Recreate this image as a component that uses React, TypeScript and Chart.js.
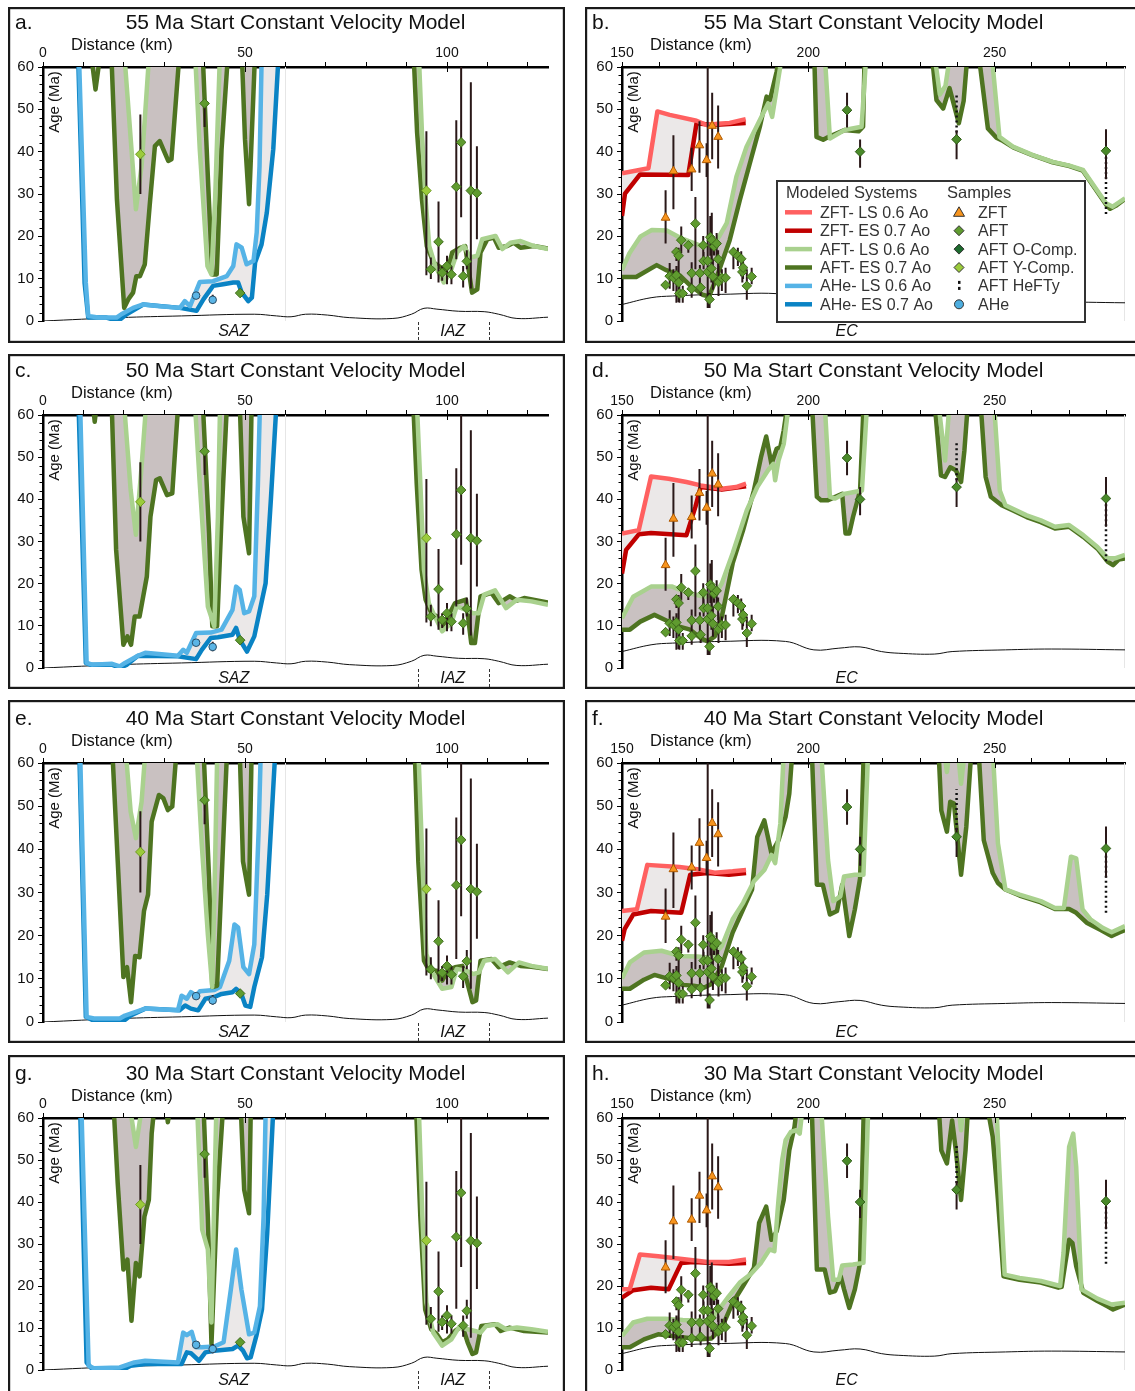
import React, { useEffect, useRef } from "react";
import { Chart, registerables } from "chart.js";

Chart.register(...registerables);

const U = 66; // model age above the plotted window (line leaves the top of the plot)
type Pt = [number, number];

// ---------- text / ticks ----------
const PANEL_LETTERS = ["a.", "b.", "c.", "d.", "e.", "f.", "g.", "h."];
const START_AGES = [55, 55, 50, 50, 40, 40, 30, 30];
const LEFT_X_LABELS = [0, 50, 100];
const RIGHT_X_LABELS = [150, 200, 250];
const Y_LABELS = [0, 10, 20, 30, 40, 50, 60];
const LEFT_ZONE_LABELS = ["SAZ", "IAZ"];
const LEFT_ZONE_POS = [47.2, 101.4];
const LEFT_ZONE_BOUNDS = [92.7, 110.3];
const RIGHT_ZONE_LABELS = ["EC"];
const RIGHT_ZONE_POS = [210.3];
const LEGEND_MODELS = ["ZFT- LS 0.6 Ao", "ZFT- ES 0.7 Ao", "AFT- LS 0.6 Ao", "AFT- ES 0.7 Ao", "AHe- LS 0.6 Ao", "AHe- ES 0.7 Ao"];
const LEGEND_SAMPLES = ["ZFT", "AFT", "AFT O-Comp.", "AFT Y-Comp.", "AFT HeFTy", "AHe"];

// ---------- topographic profiles ----------
const LEFT_GROUND: Pt[] = [[0,0],[19,0.8],[34.3,1.2],[52.3,1.6],[57.8,1.2],[61.4,1],[65,1.6],[70.4,1.4],[75.8,0.8],[86.6,0.6],[91.2,1.6],[94.3,3],[97.5,2.8],[102.9,2.3],[109.2,2.2],[112.8,1.6],[117.3,0.6],[125,0.9]];
const RIGHT_GROUND: Pt[] = [[150,3.9],[157.8,5.5],[163.5,5.9],[176.8,6.3],[193.9,6.3],[201.5,4.3],[208.2,4.7],[213.9,5],[219.6,3.9],[224.3,3.5],[233.8,3.3],[238.6,3.9],[252.9,4.3],[265.2,4.5],[285,4.3]];

// ---------- samples: [distance, age, errLow, errHigh] ----------
const LEFT_AFT = [[40.0,51.4,45.8,52.3],[48.8,6.6,6.6,6.6],[96.0,12.2,9.9,15.0],[97.9,18.7,9.1,28.2],[98.8,11.4,9.5,13.0],[100.0,13.0,8.7,15.4],[101.1,11.0,8.7,13.0],[102.3,31.7,14.6,47.4],[103.5,42.2,24.5,60],[104.0,10.6,7.9,13.0],[104.9,14.1,12.2,16.7],[105.9,30.8,7.7,56.4],[107.4,30.2,19.3,41.3]];
const LEFT_AFT_Y = [[24.1,39.4,30.0,48.8],[94.9,30.8,10.8,44.8]];
const LEFT_AHE = [[37.9,6.0,6.0,6.0],[42.0,5.0,4.0,6.2]];
const RIGHT_ZFT = [[161.7,24.4,18.3,30.9],[163.8,35.4,26.4,43.9],[168.7,35.8,30.7,40.9],[170.8,41.5,35.0,47.2],[172.7,38.0,34.0,42.0],[174.2,46.1,38.2,53.9],[175.8,43.5,36.0,50.9]];
const RIGHT_AFT = [[161.7,8.5,8.5,8.5],[162.8,10.6,7.6,13.7],[163.8,10.2,7.1,12.2],[164.6,16.3,14.2,17.3],[165.2,15.4,9.0,17.3],[164.6,10.8,4.3,13.0],[165.2,9.1,4.5,12.0],[165.9,19.1,16.0,22.3],[165.4,6.5,4.3,8.3],[166.3,6.5,4.3,8.3],[167.8,17.9,16.1,18.9],[168.7,11.3,7.6,13.9],[168.7,7.6,5.5,9.4],[169.7,23.0,12.2,29.3],[170.9,11.3,7.6,13.2],[171.1,7.9,5.9,9.0],[171.8,17.9,14.6,20.1],[171.9,14.2,12.2,16.3],[173.0,14.2,3.1,60],[173.0,11.6,8.5,14.0],[173.5,5.1,3.1,6.6],[173.7,19.8,15.4,24.8],[174.0,12.4,9.1,15.4],[174.1,19.1,13.2,25.6],[174.4,10.5,7.4,14.6],[174.7,17.6,15.5,19.5],[175.4,18.3,14.6,20.8],[175.8,14.6,11.4,16.7],[175.9,9.2,5.9,13.0],[176.8,10.2,7.1,12.2],[177.8,10.2,6.6,12.6],[179.9,16.3,12.2,17.3],[181.1,15.4,13.0,17.3],[182.0,14.7,10.6,16.5],[182.3,11.6,9.1,13.8],[182.5,12.6,9.9,15.0],[183.5,8.3,5.0,12.2],[184.8,10.5,8.7,12.6]];
const RIGHT_AFT_O = [[210.4,49.8,45.7,53.9],[213.9,40.0,36.2,42.9],[239.8,42.9,38.2,45.0],[279.9,40.2,33.5,45.3]];
const RIGHT_HEFTY = [[239.8,44.5,53.9],[279.9,25.3,40.2]];

// ---------- models: left panels (a, c, e, g) ----------
const A_AFT_LS: Pt[] = [[0,U],[19.9,U],[21.9,40.6],[23,26.4],[24.4,36.6],[26.5,U],[37.5,U],[38.8,40.6],[40.7,13],[41.7,11],[42.6,28.7],[43.9,U],[92.9,U],[93.8,44.5],[94.7,28.7],[95.6,17.7],[97.1,13],[99.2,9.1],[100.8,11.4],[102.5,16.2],[104.2,17.7],[105.8,15],[107.5,15.4],[108.7,19.3],[112,20.1],[113.7,17],[115.7,18.5],[118.2,18.9],[121.5,17.7],[125,17]];
const A_AFT_ES: Pt[] = [[0,U],[11.5,U],[13,54.7],[14.6,U],[16.8,U],[18.3,28.7],[20.1,3.1],[21.1,5.1],[22.3,6.7],[23.1,10.6],[24,10.6],[25.2,13.4],[26.4,27.2],[27.7,41.3],[28.9,42.5],[31,37.8],[31.8,38.2],[34,U],[39.4,U],[40.9,31.9],[41.9,11],[43,11],[44.2,40.6],[46,U],[49.1,U],[50,42.9],[51,27.6],[51.7,44.5],[52.6,U],[91.6,U],[92.6,44.5],[93.8,28.7],[95,17.7],[96.7,13.8],[99.2,12.2],[100.4,12.8],[101.3,16.2],[103.3,17.3],[104.5,17.7],[106.2,6.7],[107.5,7.5],[108.3,16.2],[110,19.3],[111.6,19.7],[112.8,17.3],[114.9,17.7],[116.5,18.5],[118.2,17.3],[121.5,17.7],[125,17.1]];
const A_AHE_LS: Pt[] = [[0,U],[8.8,U],[10.6,9],[11.2,1.2],[14,0.8],[18.2,0.8],[19.4,1.6],[22.3,3.1],[24.8,3.9],[28.9,3.5],[33.9,3.1],[35.1,4.7],[36.4,3.5],[38.8,9.2],[42.1,9.4],[45.5,10.6],[47.1,13],[47.9,18.1],[49.2,17.3],[50.4,13.4],[52.1,14.2],[52.9,20.9],[53.6,36.6],[54.2,U],[125,U]];
const A_AHE_ES: Pt[] = [[0,U],[8.6,U],[10.3,9],[11.2,0.8],[15.7,0.8],[18.6,0],[20.7,1.6],[24.8,3.9],[33.9,3.1],[38,2.4],[39.7,5.1],[42.1,8.3],[44.6,8.7],[47.1,9.1],[48.3,9.1],[49.2,6.7],[50.8,4.7],[51.7,5.5],[52.5,13.8],[54.1,18.1],[55.4,25.6],[57,40.6],[58.5,U],[125,U]];

const C_AFT_LS: Pt[] = [[0,U],[19.8,U],[21.7,42.2],[23,31.6],[24.4,47.8],[25.8,U],[37.4,U],[38.8,43.8],[40.8,14.6],[42.4,9.9],[43.3,35.9],[43.9,U],[92.4,U],[93.4,43.8],[94.3,23.3],[95.5,15.4],[97,12.2],[98.8,8.7],[101.1,10.7],[102.4,14.6],[104.7,13.8],[106.5,13],[107.9,13],[109.2,17.4],[111.9,18.4],[114.6,14.2],[117.3,16.2],[120.9,15.8],[125,15]];
const C_AFT_ES: Pt[] = [[0,U],[12,U],[12.8,58.4],[13.7,U],[16.9,U],[18.1,28],[19.9,5.5],[20.9,7.5],[21.8,5.5],[22.7,12.2],[23.9,12.2],[25.7,21.7],[26.6,35.9],[28,44.6],[28.9,45],[30.7,41],[32,41.4],[33.7,U],[39.4,U],[41.1,32],[41.9,9.9],[43.1,9.9],[44.2,35.9],[45.7,U],[48.6,U],[49.6,35.9],[51,27.2],[51.7,U],[91.5,U],[92.5,43.8],[93.7,23.3],[94.7,16.2],[96.1,13],[97.5,12.2],[98.8,9.9],[100,11.8],[102,15.4],[104.7,16.2],[106,5.9],[106.9,5.9],[108.3,17],[111,17.8],[112.8,15.4],[115.5,17],[117.3,16],[119.1,16.6],[125,15.5]];
const C_AHE_LS: Pt[] = [[0,U],[9.1,U],[10.8,1.2],[12.2,0.8],[17.1,1],[19,0.4],[20.3,1.2],[23.5,2.9],[25.3,3.6],[33.4,2.9],[34.7,4.3],[35.6,3.6],[37.9,8.3],[41.5,8.4],[44.2,9.1],[46.9,13.8],[47.8,19.3],[48.7,18.5],[49.8,13],[51,13.4],[52.3,17],[53.2,43.8],[53.8,U],[125,U]];
const C_AHE_ES: Pt[] = [[0,U],[8.7,U],[10.6,1.2],[11.7,0.8],[17.1,0.8],[19,0],[20.8,0.8],[23.5,2.9],[33.4,2.8],[37.9,2.1],[39.3,4.3],[41.5,7.1],[43.3,7.3],[46.9,7.9],[47.8,9.5],[48.7,6.7],[50.5,3.9],[52.3,7.5],[53.7,13.8],[55.1,20.1],[56.4,39.9],[58,U],[125,U]];

const E_AFT_LS: Pt[] = [[0,U],[20.2,U],[21.7,48.7],[23,42.6],[24.4,51],[25.6,U],[37.8,U],[39.3,41.1],[40.8,20.3],[41.9,8.1],[42.6,37.2],[43.2,U],[92.8,U],[93.9,37.2],[94.9,15.7],[96.6,11.1],[98.8,7.7],[101.1,8.1],[102.4,12.3],[104.7,11.9],[106.5,11.1],[107.9,11.5],[109.2,14.2],[111.9,14.6],[115.1,11.5],[117.8,13.8],[120.9,13],[125,12.3]];
const E_AFT_ES: Pt[] = [[0,U],[17,U],[18.5,37.2],[19.9,10.4],[20.8,12.7],[21.8,4.6],[22.8,15.3],[23.9,15],[25,25.7],[26,29.5],[26.9,46.4],[28.7,52.6],[29.8,51.8],[30.9,49.1],[32,49.9],[33.3,U],[39.6,U],[41.1,33.4],[41.9,8.1],[43.1,8.4],[44.4,37.2],[45.7,U],[48.6,U],[49.5,37.2],[51,29.5],[51.7,U],[91.9,U],[92.9,37.2],[94.3,14.2],[95.6,11.9],[97.5,11.9],[98.8,9.6],[100.2,11.9],[102,12.7],[103.8,13],[104.9,9.6],[106.3,4.6],[107.2,5],[108.3,14.2],[111,14.6],[112.8,12.7],[115.5,13.8],[118.2,13],[120.9,12.8],[125,12.3]];
const E_AHE_LS: Pt[] = [[0,U],[9.1,U],[10.8,1.2],[12.6,0.8],[19,0.8],[20.3,1.5],[25.3,3.1],[33.4,2.7],[34.3,6.1],[35.6,5.4],[36.6,6.9],[37.9,6.1],[38.8,7.1],[42.4,7.4],[43.8,8.1],[46.1,14.2],[47.4,22.6],[48.3,21.9],[49.6,12.7],[51,11.1],[52.3,18],[53.4,44.9],[54,U],[125,U]];
const E_AHE_ES: Pt[] = [[0,U],[8.9,U],[10.6,1.2],[12.2,0.5],[19.9,0.2],[21.7,1.5],[25.3,3.1],[33.8,2.7],[35.2,3.8],[36.6,3.1],[38.4,2.7],[40.2,5.4],[42.4,5.8],[44.2,6.5],[46.9,6.9],[47.8,7.7],[49.1,6.5],[50.1,3.8],[51.3,3.5],[52.3,8.1],[54.2,15],[55.5,29.5],[57.7,U],[125,U]];

const G_AFT_LS: Pt[] = [[0,U],[21,U],[23,53.1],[25,U],[38,U],[39.4,33.4],[40.8,28.7],[41.7,11.3],[43,U],[92.9,U],[93.9,36.5],[94.9,16],[96.6,8.9],[98.8,5.8],[101.1,7.3],[102.9,10.1],[105.1,9.7],[106.9,9.3],[108.3,8.9],[109.7,10.5],[112.5,10.9],[114.6,9.7],[117.3,10.1],[120.9,9.7],[125,9.1]];
const G_AFT_ES: Pt[] = [[0,U],[17.3,U],[18.5,44.4],[19.9,23.9],[20.9,26.3],[21.9,11.7],[23,25.5],[23.9,22.3],[25.1,36.5],[26.2,40.5],[26.9,56.3],[27.9,U],[30.1,U],[30.9,59],[32.1,U],[39.6,U],[40.8,36.5],[41.7,6.2],[43.1,40.5],[44.8,U],[48.8,U],[49.8,42.9],[51,37.3],[51.5,U],[92.2,U],[93.4,36.5],[94.6,14.4],[96.1,9.7],[97.5,8.5],[98.8,6.6],[100.2,7.3],[102,9.3],[103.8,10.5],[105.1,6.6],[106.3,3.8],[107.2,4.2],[108.5,10.5],[111.9,10.9],[113.3,9.3],[115.5,10.1],[119.1,9.3],[125,8.9]];
const G_AHE_LS: Pt[] = [[0,U],[9.4,U],[11.3,1],[12.6,0.4],[19,0.6],[22.6,1.8],[25.3,2.2],[33.4,1.8],[34.7,8.9],[35.6,8.3],[36.8,9.1],[37.9,5.4],[39.3,5.4],[42.4,5.6],[44.7,6.6],[46.5,19.2],[47.8,28.7],[49.1,19.2],[51,8.5],[52.3,8.9],[53.7,15.2],[54.6,36.5],[55.2,U],[125,U]];
const G_AHE_ES: Pt[] = [[0,U],[9.1,U],[10.8,1.8],[12.2,0.2],[19.9,0.1],[21.7,1],[25.3,1.4],[34.3,1.4],[35.6,4.2],[36.6,4],[38.6,2.2],[40.2,4.2],[42.4,4.6],[46.9,5],[48.3,5.8],[49.5,4.6],[50.5,2.8],[51.4,3],[52.8,8.1],[54.2,14.4],[55.5,32.6],[57.2,U],[125,U]];

// ---------- models: right panels (b, d, f, h) ----------
const B_ZFT_LS: Pt[] = [[150,34.9],[157.1,36.1],[159.5,49.5],[162.8,48.7],[170,47.3],[172.7,46.3],[175.8,46.6],[178.9,46.8],[183.2,47.7]];
const B_ZFT_ES: Pt[] = [[150,24.8],[150.8,30.1],[154.8,34.6],[167.8,34.5],[170,46.7],[174.3,46.3],[183.2,46.8]];
const B_AFT_LS: Pt[] = [[150,12],[152,16],[155,20],[158,21.5],[162,21.4],[166,19.5],[171,17.8],[174.3,17.7],[176,19.9],[178.1,23.1],[180.7,34.1],[183.4,41.1],[187,47.5],[189.2,51.4],[190.3,48.2],[192.4,59.7],[193.2,U],[204.2,U],[205.8,43.1],[209.7,45.1],[214.3,45.9],[215.8,U],[233.4,U],[235.3,53.5],[236.8,55.5],[238.6,U],[248.9,U],[251.3,43.5],[254.9,41.2],[260.3,39.2],[265.6,37.6],[270.1,36.7],[273.7,35.7],[279.9,27.8],[281.7,27],[285,29]];
const B_AFT_ES: Pt[] = [[150,10.4],[153.8,10.4],[159.3,13.2],[161.9,12],[165.5,10.8],[168.2,8.5],[171.6,6.2],[173.4,5.8],[175.2,9.8],[178.9,19.1],[181.6,28.5],[184.3,37.2],[187,45.9],[188.8,53],[189.7,52.2],[191.5,58.9],[193,U],[201.5,U],[202.2,43.5],[204,42.8],[205.5,43.5],[209.7,45.1],[213.5,44.8],[214.7,45.9],[215.2,U],[232.8,U],[234.4,52.2],[236.2,50.2],[237.9,55],[240.4,46.7],[241.7,52],[243,U],[245.3,U],[248.2,45.5],[250.5,43.3],[252.3,42.5],[255,41],[260.3,39.1],[265.6,37.5],[270.1,36.6],[273.7,35.5],[279.9,27.5],[281,26.5],[282.5,27.2],[285,28.8]];

const D_ZFT_LS: Pt[] = [[150,31.9],[154.5,32.7],[157.8,45.4],[162.5,44.9],[167.3,44.1],[171.1,43.3],[176.8,42.5],[180.6,42.9],[183.3,43.7]];
const D_ZFT_ES: Pt[] = [[150,22.4],[151.1,28],[154.5,31.7],[157.8,32],[167.3,31.5],[169.7,38.2],[171.1,42.9],[176.8,42.3],[183.3,43.1]];
const D_AFT_LS: Pt[] = [[150,11.8],[153,16.9],[157.8,19.3],[163.5,19.3],[167.3,17.9],[172.1,16.9],[174.9,17.3],[176.8,20.1],[179.7,27.2],[183.5,37.4],[186.3,42.9],[189.2,46.9],[190.6,48.4],[191.1,44.5],[192,49.2],[193.4,53.1],[195.3,U],[204.2,U],[205.8,40.6],[207.2,40.2],[209.6,41.3],[212,41.7],[214.4,42.1],[216,U],[234.5,U],[236.7,49.2],[238.2,U],[249.6,U],[251.4,42.1],[252.9,38.6],[258.6,36.2],[262.4,35],[266.2,33.5],[270,33.9],[273.8,31.5],[277.6,28.7],[280.4,26],[282.3,26],[285,26.8]];
const D_AFT_ES: Pt[] = [[150,9.1],[152.1,9.1],[154.9,11],[158.7,12.6],[161.6,11.4],[165.4,9.8],[168.3,9.1],[171.1,7.1],[173,6.3],[174.9,7.5],[176.8,12.2],[179.7,24.8],[182.5,32.7],[185.4,42.1],[187.3,50],[188.7,54.9],[190.1,48.4],[191.5,52],[192.5,52.4],[193.4,56.3],[195,U],[200.8,U],[202.3,40.6],[203.4,39.8],[205.3,39.8],[209.1,41.3],[210,31.9],[211,31.9],[212,35.8],[213.9,42.1],[215,U],[233.6,U],[235.6,45.7],[236.7,45.3],[238.1,47.6],[239.6,46.9],[241,44.1],[241.9,51.6],[243.1,U],[246,U],[247.6,45.3],[249,40.6],[251.9,38.6],[254.8,37.4],[258.6,35.8],[262.4,34.6],[266.2,33.1],[270,33.5],[273.8,31.1],[277.6,28.3],[280.4,25.2],[281.8,24.4],[283.3,25.7],[285,26]];

const F_ZFT_LS: Pt[] = [[150,25.7],[154,26.1],[156.8,36.4],[165.4,35.9],[170.2,35.4],[174.9,34.6],[179.7,34.9],[183.3,35.2]];
const F_ZFT_ES: Pt[] = [[150,18.8],[150.7,21.5],[153,24.9],[157.8,25.7],[165.9,25.3],[168.3,34.1],[173,34.5],[178.7,34.1],[183.3,34.5]];
const F_AFT_LS: Pt[] = [[150,10.1],[152.1,13.8],[155.9,16.1],[160.6,16.5],[165.4,15.3],[170.2,15.2],[174,14.9],[176.8,17.6],[179.7,23.8],[182.5,27.6],[185.4,32.6],[188.2,35.2],[190.1,38.7],[191.1,36.8],[192.5,46],[193.6,U],[203.2,U],[205.3,37.5],[206.7,28],[208.6,29.1],[209.6,33.7],[212.5,34.1],[214.8,34.1],[216.2,U],[236,U],[237.2,57.9],[238.3,U],[239.8,U],[241,55.2],[242.4,U],[249.3,U],[250.9,41.4],[252.9,30.7],[256.7,29.5],[262.4,28],[266.2,26.4],[268.6,26.4],[270.5,38.3],[271.9,37.9],[273.6,26.1],[275.7,23.8],[279,21.8],[281.4,20.8],[285,22.2]];
const F_AFT_ES: Pt[] = [[150,7.7],[152.1,7.7],[155.9,9.8],[158.7,10.9],[162.5,10],[166.3,8.6],[169.2,8.4],[172.1,8],[174,8.8],[176.8,13],[179.7,20.7],[182.5,26.1],[184.9,30.7],[186.3,42.9],[188.2,46.7],[190.1,39.1],[192,42.1],[193.9,47.5],[194.9,52.9],[196,U],[200.8,U],[202.3,31.8],[203.9,31.8],[205.8,24.9],[207.7,25.7],[209.1,31.8],[211,19.9],[212.5,26.1],[213.9,33.3],[215,U],[234.8,U],[235.7,49],[237.2,44.1],[238.1,51],[239.1,50.6],[241,34.1],[242.4,45.2],[244,U],[245.5,U],[247.1,42.1],[249.5,34.5],[250.9,32.2],[252.9,30.7],[256.7,29.3],[262.4,27.7],[266.2,26.2],[270,26.2],[271.9,25.3],[274.7,23],[278.5,21.3],[281.4,19.9],[283.3,20.7],[285,21.3]];

const H_ZFT_LS: Pt[] = [[150,19.2],[152.1,19.3],[154.8,27.5],[159.7,27.1],[167.3,26.3],[173,25.7],[178.7,25.7],[183.3,26.3]];
const H_ZFT_ES: Pt[] = [[150,17.2],[153,19],[157.8,19.6],[162.5,19.2],[165.9,25.5],[169.2,25.7],[178.7,25.3],[183.3,25.5]];
const H_AFT_LS: Pt[] = [[150,8.1],[153,11.3],[156.8,12.2],[161.6,12.2],[166.3,11.9],[171.1,11.7],[173.5,11.7],[176,14.4],[178.7,17.6],[181.6,20.8],[184.4,22.7],[187.3,25.5],[189.6,28.7],[190.9,28.3],[192,40.5],[193,50],[193.9,54.7],[195.3,56.7],[196.8,57.1],[197.7,56.3],[198.9,U],[203.2,U],[205.3,36.5],[206.7,21.5],[208.2,21.5],[209.1,24.9],[212,25.1],[214.8,25.5],[216.2,U],[239.9,U],[241,57.1],[242.1,U],[250.3,U],[251.9,36.5],[252.7,22.7],[256.7,21.9],[262.4,21.2],[267.6,20],[268.5,27.9],[270,53.1],[271.1,56.3],[271.9,48.4],[273.3,19.2],[277.6,17],[281.4,15.6],[285,16]];
const H_AFT_ES: Pt[] = [[150,5.4],[152.1,5.4],[155.9,7.3],[159.7,8.5],[163.5,8.1],[167.3,7.7],[171.1,7.3],[174,7.5],[176.8,10.1],[179.7,16],[182.5,20],[185.4,24.3],[186.8,35],[188.7,38.9],[190.1,31],[191.5,33],[193.4,40.5],[194.9,52.3],[196.3,57.9],[197.4,U],[200.8,U],[202.3,23.9],[204.4,23.9],[205.8,18.4],[207.2,18.8],[208.7,22.3],[209.6,19.2],[211,14.8],[212.5,19.2],[213.9,25.5],[215,U],[234.8,U],[235.7,52.3],[237.2,49.2],[238.6,59.4],[239.6,52.3],[241,40.5],[242.2,52.3],[243.1,U],[247.4,U],[249.5,55.5],[250.9,40.5],[252.4,22.3],[256.7,21.5],[262.4,20.8],[267.1,19.6],[268,19.8],[269,25.5],[270,31],[270.9,30.2],[271.9,24.7],[273.8,18.4],[277.6,16.4],[280.4,15.1],[281.8,14.4],[285,15.6]];

// ---------- styles ----------
const COL_AFT_LS = "#A9D18E";
const COL_AFT_ES = "#4E7421";
const COL_AHE_LS = "#55B3E6";
const COL_AHE_ES = "#0A83C4";
const COL_ZFT_LS = "#FF6060";
const COL_ZFT_ES = "#C00000";
const FILL_DARK = "#C9C1C1";
const FILL_LIGHT = "#EBE8E8";
const COL_ERR = "#2A1818";
const FONT = "'Liberation Sans', Arial, sans-serif";

const ROWS = [
  { boxTop: 7, boxH: 336, plotTop: 67, plotBottom: 321 },
  { boxTop: 354, boxH: 335, plotTop: 415, plotBottom: 668 },
  { boxTop: 700, boxH: 343, plotTop: 763, plotBottom: 1022 },
  { boxTop: 1055, boxH: 336, plotTop: 1118, plotBottom: 1370 },
];
const COLS: any = {
  L: { boxLeft: 8, boxW: 557, plotLeft: 43, plotRight: 548, min: 0, max: 125 },
  R: { boxLeft: 585, boxW: 550, plotLeft: 622, plotRight: 1125, min: 150, max: 285 },
};

type PanelCfg = {
  idx: number; side: "L" | "R"; row: number;
  aftLS: Pt[]; aftES: Pt[]; bLS: Pt[]; bES: Pt[];
};

const PANELS: PanelCfg[] = [
  { idx: 0, side: "L", row: 0, aftLS: A_AFT_LS, aftES: A_AFT_ES, bLS: A_AHE_LS, bES: A_AHE_ES },
  { idx: 1, side: "R", row: 0, aftLS: B_AFT_LS, aftES: B_AFT_ES, bLS: B_ZFT_LS, bES: B_ZFT_ES },
  { idx: 2, side: "L", row: 1, aftLS: C_AFT_LS, aftES: C_AFT_ES, bLS: C_AHE_LS, bES: C_AHE_ES },
  { idx: 3, side: "R", row: 1, aftLS: D_AFT_LS, aftES: D_AFT_ES, bLS: D_ZFT_LS, bES: D_ZFT_ES },
  { idx: 4, side: "L", row: 2, aftLS: E_AFT_LS, aftES: E_AFT_ES, bLS: E_AHE_LS, bES: E_AHE_ES },
  { idx: 5, side: "R", row: 2, aftLS: F_AFT_LS, aftES: F_AFT_ES, bLS: F_ZFT_LS, bES: F_ZFT_ES },
  { idx: 6, side: "L", row: 3, aftLS: G_AFT_LS, aftES: G_AFT_ES, bLS: G_AHE_LS, bES: G_AHE_ES },
  { idx: 7, side: "R", row: 3, aftLS: H_AFT_LS, aftES: H_AFT_ES, bLS: H_ZFT_LS, bES: H_ZFT_ES },
];

const toXY = (pts: Pt[]) => pts.map(([x, y]) => ({ x, y }));

function lineDs(pts: Pt[], color: string, extra: any = {}) {
  return {
    type: "line", data: toXY(pts), borderColor: color, borderWidth: 4.5,
    pointRadius: 0, tension: 0, fill: false, borderJoinStyle: "round", ...extra,
  };
}
function pointDs(samples: number[][], style: string, bg: string, border: string, r: number) {
  return {
    type: "line", showLine: false, data: samples.map((s) => ({ x: s[0], y: s[1] })),
    pointStyle: style, pointRadius: r, pointBackgroundColor: bg, pointBorderColor: border,
    pointBorderWidth: 1, borderColor: border, backgroundColor: bg,
  };
}
function barDs(samples: number[][], color: string, width: number, dash: number[] = []) {
  const data: any[] = [];
  for (const s of samples) {
    const lo = s.length === 4 ? s[2] : s[1];
    const hi = s.length === 4 ? s[3] : s[2];
    if (lo === hi) continue;
    data.push({ x: s[0], y: lo }, { x: s[0], y: hi }, { x: s[0], y: null });
  }
  return {
    type: "line", data, borderColor: color, borderWidth: width, borderDash: dash,
    pointRadius: 0, spanGaps: false, fill: false, tension: 0,
  };
}

function drawPointMarker(ctx: CanvasRenderingContext2D, style: string, x: number, y: number, bg: string, border: string) {
  ctx.save();
  ctx.fillStyle = bg; ctx.strokeStyle = border; ctx.lineWidth = 1;
  ctx.beginPath();
  if (style === "tri") {
    ctx.moveTo(x, y - 5.5); ctx.lineTo(x + 5.5, y + 4); ctx.lineTo(x - 5.5, y + 4); ctx.closePath();
  } else if (style === "dia") {
    ctx.moveTo(x, y - 5); ctx.lineTo(x + 5, y); ctx.lineTo(x, y + 5); ctx.lineTo(x - 5, y); ctx.closePath();
  } else {
    ctx.arc(x, y, 4.5, 0, Math.PI * 2);
  }
  ctx.fill(); ctx.stroke();
  ctx.restore();
}

function Panel({ p }: { p: PanelCfg }) {
  const ref = useRef<HTMLCanvasElement>(null);
  const col = COLS[p.side];
  const row = ROWS[p.row];
  const W = col.boxW;
  const H = row.boxH;
  useEffect(() => {
    const isL = p.side === "L";
    const datasets: any[] = isL
      ? [
          pointDs(LEFT_AFT, "rectRot", "#5F9B2F", "#3E6B1B", 4.8),
          pointDs(LEFT_AFT_Y, "rectRot", "#9BCB3C", "#6E9A22", 4.8),
          pointDs(LEFT_AHE, "circle", "#5BB5E6", "#2A4D66", 3.8),
          barDs([...LEFT_AFT, ...LEFT_AFT_Y, ...LEFT_AHE], COL_ERR, 2),
          lineDs(p.aftLS, COL_AFT_LS, { fill: { target: 5 }, backgroundColor: FILL_DARK }),
          lineDs(p.aftES, COL_AFT_ES),
          lineDs(p.bLS, COL_AHE_LS, { fill: { target: 7 }, backgroundColor: FILL_LIGHT }),
          lineDs(p.bES, COL_AHE_ES),
          lineDs(LEFT_GROUND, "#111", { borderWidth: 1, tension: 0.4 }),
        ]
      : [
          pointDs(RIGHT_ZFT, "triangle", "#F7941D", "#B05A00", 5),
          pointDs(RIGHT_AFT, "rectRot", "#5F9B2F", "#3E6B1B", 4.8),
          pointDs(RIGHT_AFT_O, "rectRot", "#4A8A2A", "#2E5A16", 4.8),
          barDs([...RIGHT_ZFT, ...RIGHT_AFT, ...RIGHT_AFT_O], COL_ERR, 2),
          barDs(RIGHT_HEFTY, "#111", 2.5, [2, 3]),
          lineDs(p.bLS, COL_ZFT_LS, { fill: { target: 6 }, backgroundColor: FILL_LIGHT }),
          lineDs(p.bES, COL_ZFT_ES),
          lineDs(p.aftLS, COL_AFT_LS, { fill: { target: 8 }, backgroundColor: FILL_DARK }),
          lineDs(p.aftES, COL_AFT_ES),
          lineDs(RIGHT_GROUND, "#111", { borderWidth: 1, tension: 0.4 }),
        ];
    const xLabels = isL ? LEFT_X_LABELS : RIGHT_X_LABELS;

    const deco = {
      id: "deco",
      beforeDatasetsDraw(chart: any) {
        const { ctx, chartArea: ca, scales } = chart;
        ctx.save();
        ctx.strokeStyle = "#E6E6E6"; ctx.lineWidth = 1;
        const gx = isL ? Math.round(scales.x.getPixelForValue(60)) + 0.5 : ca.right - 0.5;
        ctx.beginPath(); ctx.moveTo(gx, ca.top); ctx.lineTo(gx, ca.bottom); ctx.stroke();
        ctx.restore();
      },
      afterDraw(chart: any) {
        const { ctx, chartArea: ca, scales } = chart;
        const xs = scales.x, ys = scales.y;
        ctx.save();
        // minor y ticks
        ctx.strokeStyle = "#000"; ctx.lineWidth = 1;
        for (let v = 2; v < 60; v += 2) {
          if (v % 10 === 0) continue;
          const y = Math.round(ys.getPixelForValue(v)) + 0.5;
          ctx.beginPath(); ctx.moveTo(ca.left - 3.5, y); ctx.lineTo(ca.left - 1, y); ctx.stroke();
        }
        // labelled x ticks cross the axis
        for (const v of xLabels) {
          const x = Math.round(xs.getPixelForValue(v)) + 0.5;
          if (v === xs.min) continue;
          ctx.beginPath(); ctx.moveTo(x, ca.top); ctx.lineTo(x, ca.top + 5); ctx.stroke();
        }
        // frame
        ctx.strokeStyle = "#1A1A1A"; ctx.lineWidth = 2.2;
        ctx.strokeRect(1.1, 1.1, W - 2.2 + (isL ? 0 : 40), H - 2.2 + (p.row === 3 ? 40 : 0));
        // titles
        ctx.fillStyle = "#111";
        ctx.textBaseline = "middle";
        ctx.font = `21px ${FONT}`;
        ctx.textAlign = "left";
        ctx.fillText(PANEL_LETTERS[p.idx], 7, ca.top - 44);
        ctx.textAlign = "center";
        ctx.fillText(`${START_AGES[p.idx]} Ma Start Constant Velocity Model`, (ca.left + ca.right) / 2, ca.top - 44);
        ctx.font = `16.5px ${FONT}`;
        ctx.textAlign = "left";
        ctx.fillText("Distance (km)", ca.left + 28, ca.top - 21.5);
        // y title
        ctx.save();
        ctx.translate(ca.left + 12, ca.top + 35);
        ctx.rotate(-Math.PI / 2);
        ctx.textAlign = "center";
        ctx.font = `15px ${FONT}`;
        ctx.fillText("Age (Ma)", 0, 0);
        ctx.restore();
        // zone labels
        ctx.font = `italic 16px ${FONT}`;
        ctx.textAlign = "center";
        const zl = isL ? LEFT_ZONE_LABELS : RIGHT_ZONE_LABELS;
        const zp = isL ? LEFT_ZONE_POS : RIGHT_ZONE_POS;
        zl.forEach((t, i) => ctx.fillText(t, xs.getPixelForValue(zp[i]), ca.bottom + 11));
        if (isL) {
          ctx.strokeStyle = "#333"; ctx.lineWidth = 1; ctx.setLineDash([3, 2]);
          for (const b of LEFT_ZONE_BOUNDS) {
            const x = Math.round(xs.getPixelForValue(b)) + 0.5;
            ctx.beginPath(); ctx.moveTo(x, ca.bottom + 1); ctx.lineTo(x, H - 2); ctx.stroke();
          }
          ctx.setLineDash([]);
        }
        // legend (panel b only)
        if (p.idx === 1) {
          const lx = 192, ly = 174, lw = 308, lh = 141;
          ctx.fillStyle = "#fff";
          ctx.fillRect(lx, ly, lw, lh);
          ctx.strokeStyle = "#333"; ctx.lineWidth = 2;
          ctx.strokeRect(lx, ly, lw, lh);
          ctx.fillStyle = "#333";
          ctx.textAlign = "left";
          ctx.font = `16.5px ${FONT}`;
          ctx.fillText("Modeled Systems", lx + 9, ly + 12.5);
          ctx.fillText("Samples", lx + 170, ly + 12.5);
          const cols = [COL_ZFT_LS, COL_ZFT_ES, COL_AFT_LS, COL_AFT_ES, COL_AHE_LS, COL_AHE_ES];
          ctx.font = `16px ${FONT}`;
          LEGEND_MODELS.forEach((t, i) => {
            const y = ly + 31.3 + i * 18.4;
            ctx.strokeStyle = cols[i]; ctx.lineWidth = 4.5;
            ctx.beginPath(); ctx.moveTo(lx + 8, y); ctx.lineTo(lx + 35, y); ctx.stroke();
            ctx.fillStyle = "#333";
            ctx.fillText(t, lx + 43, y + 1);
          });
          LEGEND_SAMPLES.forEach((t, i) => {
            const y = ly + 31.3 + i * 18.4;
            const mx = lx + 182;
            if (i === 0) drawPointMarker(ctx, "tri", mx, y, "#F7941D", "#333");
            if (i === 1) drawPointMarker(ctx, "dia", mx, y, "#5F9B2F", "#333");
            if (i === 2) drawPointMarker(ctx, "dia", mx, y, "#1E6B2E", "#333");
            if (i === 3) drawPointMarker(ctx, "dia", mx, y, "#9BCB3C", "#333");
            if (i === 4) {
              ctx.fillStyle = "#111";
              ctx.fillRect(mx - 1, y - 5, 2.5, 3); ctx.fillRect(mx - 1, y + 1, 2.5, 3);
            }
            if (i === 5) drawPointMarker(ctx, "circle", mx, y, "#4DAEE0", "#333");
            ctx.fillStyle = "#333";
            ctx.fillText(t, lx + 201, y + 1);
          });
        }
        ctx.restore();
      },
    };

    const chart = new Chart(ref.current as HTMLCanvasElement, {
      type: "line",
      data: { datasets },
      options: {
        animation: false,
        responsive: false,
        maintainAspectRatio: false,
        devicePixelRatio: 1,
        events: [],
        layout: {
          padding: {
            left: 0, top: 0,
            right: col.boxLeft + col.boxW - col.plotRight,
            bottom: row.boxTop + row.boxH - row.plotBottom,
          },
        },
        plugins: {
          legend: { display: false },
          tooltip: { enabled: false },
          filler: { drawTime: "beforeDatasetsDraw" },
        },
        scales: {
          x: {
            type: "linear", position: "top", min: col.min, max: col.max,
            afterFit: (s: any) => { s.height = row.plotTop - row.boxTop; },
            ticks: {
              stepSize: 10, autoSkip: false, maxRotation: 0, includeBounds: false,
              padding: 0, color: "#111", font: { family: FONT, size: 14 },
              callback: (v: any) => (xLabels.includes(Math.round(v)) ? String(Math.round(v)) : ""),
            },
            grid: { drawOnChartArea: false, drawTicks: true, tickLength: 5, color: "#000", lineWidth: 1 },
            border: { display: true, color: "#000", width: 2.5 },
          },
          y: {
            type: "linear", position: "left", min: 0, max: 60,
            afterFit: (s: any) => { s.width = col.plotLeft - col.boxLeft; },
            ticks: {
              stepSize: 10, autoSkip: false, padding: 4, color: "#111",
              font: { family: FONT, size: 15 },
              callback: (v: any) => (Y_LABELS.includes(Math.round(v)) ? String(Math.round(v)) : ""),
            },
            grid: { drawOnChartArea: false, drawTicks: true, tickLength: 5, color: "#000", lineWidth: 1 },
            border: { display: true, color: "#000", width: 2.5 },
          },
        },
      } as any,
      plugins: [deco],
    } as any);
    return () => chart.destroy();
  }, []);
  return (
    <canvas
      ref={ref}
      width={W}
      height={H}
      style={{ position: "absolute", left: col.boxLeft, top: row.boxTop, width: W, height: H }}
    />
  );
}

export default function App() {
  return (
    <div style={{ position: "absolute", left: 0, top: 0, width: 1135, height: 1391, background: "#fff", overflow: "hidden" }}>
      {PANELS.map((p) => (
        <Panel key={p.idx} p={p} />
      ))}
    </div>
  );
}
